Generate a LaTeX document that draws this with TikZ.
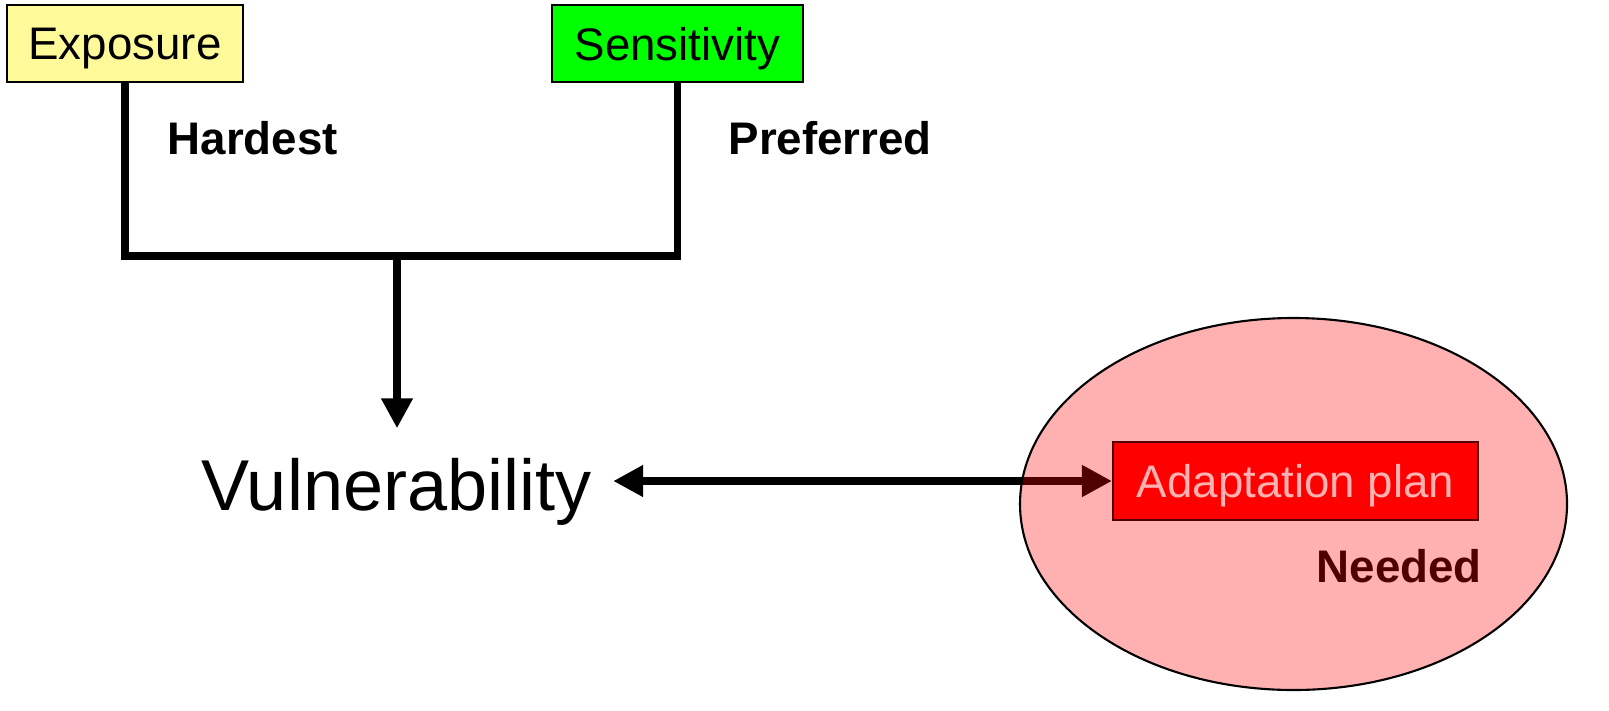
\documentclass[tikz,border=0pt]{standalone}
\usepackage{fontspec}
\setmainfont{Liberation Sans}
\usetikzlibrary{arrows.meta, shapes.geometric}
\tikzset{
  box/.style = {draw, line width=0.6pt, minimum height=0.77cm, inner sep=0pt, text depth=0pt, font=\fontsize{13}{15}\selectfont},
  link/.style = {line width=2.2pt},
  head/.style = {-{Triangle[length=0.3cm, width=0.3cm]}},
  heads/.style = {{Triangle[length=0.3cm, width=0.3cm]}-{Triangle[length=0.3cm, width=0.3cm]}},
  lbl/.style = {anchor=west, inner sep=0pt, font=\fontsize{13}{15}\selectfont\bfseries}
}
\begin{document}
\begin{tikzpicture}
\useasboundingbox (0,0) rectangle (16.09,-7.10);
\node[box, fill=yellow!40, minimum width=2.36cm] (expo) at (1.25,-0.435) {Exposure};
\node[box, fill=green, minimum width=2.51cm] (sens) at (6.775,-0.435) {Sensitivity};
\node[lbl] (hard) at (1.67,-1.38) {Hardest};
\node[lbl] (pref) at (7.28,-1.38) {Preferred};
\node[font=\fontsize{20.5}{24}\selectfont, inner xsep=6pt, inner ysep=8.2pt, anchor=base] (vuln) at (3.965,-5.10) {Vulnerability};
\node[box, fill=red, text=white, minimum width=3.65cm, minimum height=0.78cm] (plan) at (12.955,-4.81) {Adaptation plan};
\node[lbl] (need) at (13.16,-5.66) {Needed};
\coordinate (join) at (3.97,-2.56);
\draw[link] (expo.south) |- (join) -| (sens.south);
\draw[link, head] (join) -- (join |- vuln.north);
\draw[link, heads] (vuln.east |- plan.west) -- (plan.west);
\node[draw, ellipse, line width=0.6pt, fill=red, fill opacity=0.31, minimum width=5.47cm, minimum height=3.72cm, inner sep=0pt] (zone) at (12.935,-5.04) {};
\end{tikzpicture}
\end{document}
